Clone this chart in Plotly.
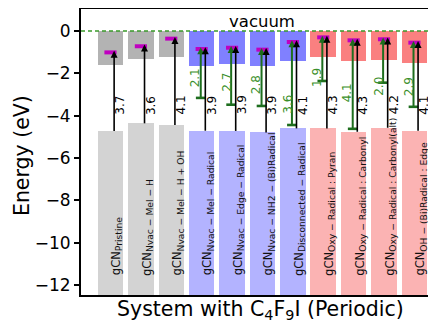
import plotly.graph_objects as go

# ---------------- data ----------------
systems = ["Pristine", "Nvac − Mel − H", "Nvac − Mel − H + OH", "Nvac − Mel − Radical",
           "Nvac − Edge − Radical", "Nvac − NH2 − (Bi)Radical", "Disconnected − Radical",
           "Oxy − Radical : Pyran", "Oxy − Radical : Carbonyl", "Oxy − Radical : Carbonyl(alt)",
           "OH − (Bi)Radical : Edge"]
groups = ["ref", "ref", "ref", "nvac", "nvac", "nvac", "nvac", "oxy", "oxy", "oxy", "oxy"]
cbm = [-1.61, -1.32, -1.24, -1.64, -1.56, -1.64, -1.40, -1.24, -1.42, -1.37, -1.50]
lumo = [-1.01, -0.72, -0.36, -0.85, -0.79, -0.88, -0.52, -0.30, -0.44, -0.39, -0.55]
vbm = [-4.72, -4.36, -4.44, -4.71, -4.72, -4.79, -4.60, -4.60, -4.76, -4.57, -4.71]
gap_labels = ["3.7", "3.6", "4.1", "3.9", "3.9", "3.9", "4.1", "4.3", "4.3", "4.2", "4.1"]
green_start = [None, None, None, -3.16, -3.48, -3.54, -4.44, -2.36, -4.62, -2.44, -3.58]
green_labels = [None, None, None, "2.1", "2.7", "2.8", "3.6", "1.9", "4.1", "2.0", "2.9"]
green_label_y = [None, None, None, -2.69, -2.93, -3.02, -3.97, -2.69, -3.40, -3.12, -3.12]
yticks = [0, -2, -4, -6, -8, -10, -12]

# ---------------- styles ----------------
upper_col = {"ref": "#b3b3b3", "nvac": "#8080ff", "oxy": "#fa8080"}
lower_col = {"ref": "#d3d3d3", "nvac": "#b3b3ff", "oxy": "#fbb3b3"}
FONT = "DejaVu Sans"
YMIN, YMAX = -12.47, 1.04
XMIN, XMAX = -0.97, 10.71
BW = 0.84
n = len(systems)
xs = list(range(n))

fig = go.Figure()

# upper (conduction) bars from vacuum down
fig.add_trace(go.Bar(x=xs, y=cbm, base=[0] * n, width=BW,
                     marker=dict(color=[upper_col[g] for g in groups], line=dict(width=0)),
                     showlegend=False, hoverinfo="skip"))
# lower (valence) bars from bottom up to VBM
fig.add_trace(go.Bar(x=xs, y=[v - YMIN + 0.5 for v in vbm], base=[YMIN - 0.5] * n, width=BW,
                     marker=dict(color=[lower_col[g] for g in groups], line=dict(width=0)),
                     showlegend=False, hoverinfo="skip"))

# magenta levels
mx, my = [], []
for i in xs:
    mx += [i - 0.2, i + 0.2, None]
    my += [lumo[i], lumo[i], None]
fig.add_trace(go.Scatter(x=mx, y=my, mode="lines", line=dict(color="#c000c0", width=4),
                         showlegend=False, hoverinfo="skip"))

TIP = 0.08
# green arrows
gx, gy, tx, ty, hx, hy = [], [], [], [], [], []
for i in xs:
    if green_start[i] is None:
        continue
    xg = i - 0.03
    gx += [xg, xg, None]
    gy += [green_start[i], lumo[i] - 0.1, None]
    tx += [xg - 0.16, xg + 0.16, None]
    ty += [green_start[i], green_start[i], None]
    hx.append(xg)
    hy.append(lumo[i] + TIP)
fig.add_trace(go.Scatter(x=gx, y=gy, mode="lines", line=dict(color="#1e6e1e", width=2),
                         showlegend=False, hoverinfo="skip"))
fig.add_trace(go.Scatter(x=tx, y=ty, mode="lines", line=dict(color="#1e6e1e", width=2.6),
                         showlegend=False, hoverinfo="skip"))
fig.add_trace(go.Scatter(x=hx, y=hy, mode="markers",
                         marker=dict(symbol="arrow-up", size=7, color="#1e6e1e", line=dict(width=0)),
                         showlegend=False, hoverinfo="skip"))

# black arrows
bx, by, bhx, bhy = [], [], [], []
for i in xs:
    xb = i + 0.12
    bx += [xb, xb, None]
    by += [vbm[i], lumo[i] - 0.1, None]
    bhx.append(xb)
    bhy.append(lumo[i] + TIP)
fig.add_trace(go.Scatter(x=bx, y=by, mode="lines", line=dict(color="black", width=1.6),
                         showlegend=False, hoverinfo="skip"))
fig.add_trace(go.Scatter(x=bhx, y=bhy, mode="markers",
                         marker=dict(symbol="arrow-up", size=7, color="black", line=dict(width=0)),
                         showlegend=False, hoverinfo="skip"))

# vacuum line
fig.add_hline(y=0, line=dict(color="#3a9a2a", width=1.6, dash="4px,3px"))

ann = []
ann.append(dict(x=5, y=0.45, xref="x", yref="y", text="vacuum", showarrow=False,
                font=dict(family=FONT, size=16.5, color="black")))
for i in xs:
    ann.append(dict(x=i + 0.33, y=-4.0, xref="x", yref="y", text=gap_labels[i], showarrow=False,
                    textangle=-90, xanchor="center", yanchor="bottom", borderpad=0,
                    font=dict(family=FONT, size=12, color="black")))
    if green_labels[i] is not None:
        ann.append(dict(x=i - 0.19, y=green_label_y[i], xref="x", yref="y", text=green_labels[i],
                        showarrow=False, textangle=-90, xanchor="center", yanchor="bottom",
                        borderpad=0, font=dict(family=FONT, size=12, color="#3a8f2a")))
    ann.append(dict(x=i + 0.2, y=-11.6, xref="x", yref="y",
                    text="gCN<sub><span style='font-size:9.2px'>" + systems[i] + "</span></sub>",
                    showarrow=False, textangle=-90, xanchor="center", yanchor="bottom", borderpad=0,
                    font=dict(family=FONT, size=11.5, color="#111111")))

ann.append(dict(x=-0.166, y=0.486, xref="paper", yref="paper", text="Energy (eV)", showarrow=False,
                textangle=-90, xanchor="center", yanchor="middle",
                font=dict(family=FONT, size=20.5, color="black")))
ann.append(dict(x=0.507, y=-0.0524, xref="paper", yref="paper",
                text="System with C<sub>4</sub>F<sub>9</sub>I (Periodic)", showarrow=False,
                xanchor="center", yanchor="middle",
                font=dict(family=FONT, size=20.5, color="black")))

# page body adds an 8px offset; figure is sized/margined to compensate
fig.update_layout(
    width=428, height=316,
    margin=dict(l=73, r=0, t=1, b=29),
    paper_bgcolor="white", plot_bgcolor="white",
    barmode="overlay", bargap=0,
    annotations=ann,
    xaxis=dict(range=[XMIN, XMAX], showticklabels=False, ticks="", showgrid=False, zeroline=False,
               showline=True, linecolor="black", linewidth=1.8, mirror=True, automargin=False),
    yaxis=dict(range=[YMIN, YMAX], tickvals=yticks, ticks="outside", ticklen=5, tickwidth=1.5,
               tickcolor="black", showgrid=False, zeroline=False, showline=True, linecolor="black",
               linewidth=1.8, tickfont=dict(family=FONT, size=17, color="black"), automargin=False),
)

fig.write_html("out.html")
